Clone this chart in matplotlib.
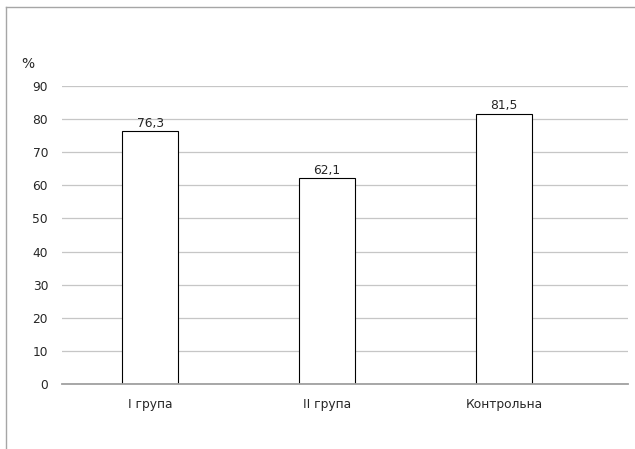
import numpy as np
import matplotlib
matplotlib.use("Agg")
import matplotlib.pyplot as plt
from matplotlib.lines import Line2D

# Дані
groups = ["I група", "II група", "Контрольна"]
values = [76.3, 62.1, 81.5]
labels = ["76,3", "62,1", "81,5"]
yticks = [0, 10, 20, 30, 40, 50, 60, 70, 80, 90]

plt.rcParams['font.family'] = ['DejaVu Sans']

W, H = 635, 449
fig = plt.figure(figsize=(W / 100, H / 100), dpi=100)
fig.patch.set_facecolor('white')

# рамка (видно лише верх і лівий край)
fig.add_artist(Line2D([6 / W, 6 / W], [0, 1 - 7 / H], transform=fig.transFigure,
                      color='#a6a6a6', lw=1))
fig.add_artist(Line2D([6 / W, 1], [1 - 7 / H, 1 - 7 / H], transform=fig.transFigure,
                      color='#a6a6a6', lw=1))

ax = fig.add_axes([62 / W, 1 - 384 / H, (628 - 62) / W, (384 - 86) / H])
x = np.arange(len(groups))
bars = ax.bar(x, values, width=0.314, color='white', edgecolor='black', linewidth=0.8, zorder=3)

for b, lab in zip(bars, labels):
    ax.text(b.get_x() + b.get_width() / 2, b.get_height() + 0.5, lab,
            ha='center', va='bottom', fontsize=8.8, color='#262626')

ax.set_xlim(-0.498, 2.70)
ax.set_ylim(0, 90)
ax.set_yticks(yticks)
ax.set_xticks(x)
ax.set_xticklabels(groups)
ax.tick_params(axis='both', length=0, labelsize=8.8, labelcolor='#262626')
ax.tick_params(axis='y', pad=10)
ax.tick_params(axis='x', pad=10)
ax.yaxis.grid(True, color='#c6c6c6', linewidth=0.9)
ax.set_axisbelow(True)
for s in ['top', 'right', 'left']:
    ax.spines[s].set_visible(False)
ax.spines['bottom'].set_color('#a0a0a0')
ax.spines['bottom'].set_linewidth(1.3)
ax.spines['bottom'].set_zorder(4)

fig.text(21 / W, 1 - 64 / H, "%", fontsize=10, color='#262626', ha='left', va='center')

fig.savefig("out.png", dpi=100, facecolor='white')
